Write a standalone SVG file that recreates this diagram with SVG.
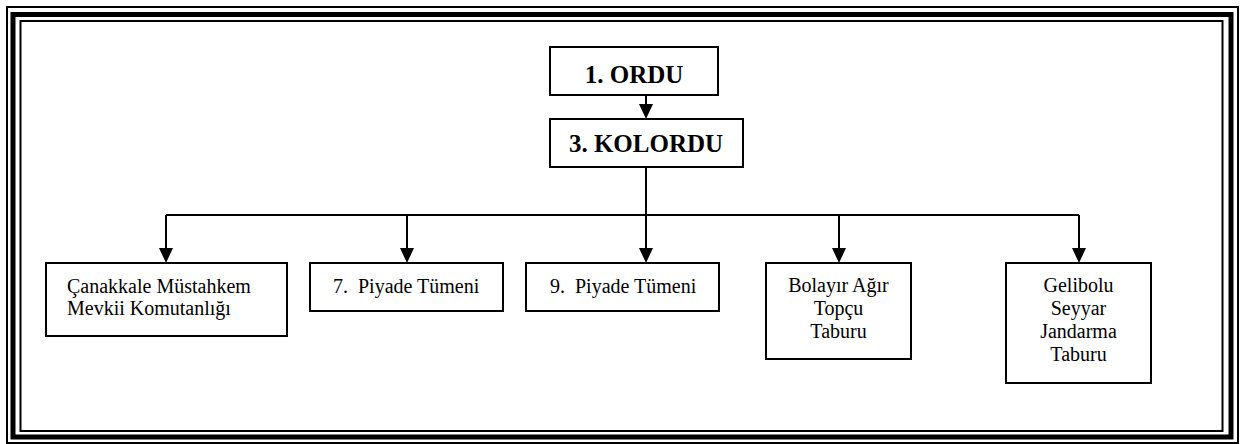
<svg xmlns="http://www.w3.org/2000/svg" width="1245" height="444" viewBox="0 0 1245 444">
<style>
.box{fill:#fff;stroke:#000;stroke-width:2}
.t{font-family:"Liberation Serif","Times New Roman",serif;font-size:20px;fill:#000}
.b{font-family:"Liberation Serif","Times New Roman",serif;font-size:25px;font-weight:bold;fill:#000}
.c{fill:none;stroke:#000;stroke-width:2}
.ah{fill:#000;stroke:none}
</style>
<defs>
<marker id="arr" markerWidth="14" markerHeight="16" refX="7" refY="15" orient="auto-start-reverse" markerUnits="userSpaceOnUse" viewBox="0 0 14 16">
<path d="M0,0 L14,0 L7,15 Z" class="ah"/>
</marker>
</defs>
<rect width="1245" height="444" fill="#fff"/>
<g id="frame" fill="none" stroke="#000">
<rect x="7" y="7" width="1231" height="436" stroke-width="2"/>
<rect x="13" y="14.5" width="1218" height="422.5" stroke-width="5"/>
<rect x="20.5" y="21" width="1202" height="410" stroke-width="2"/>
</g>
<g id="connectors">
<path class="c" d="M646,95 V105"/>
<path d="M639,104 L653,104 L646,119 Z" class="ah"/>
<path class="c" d="M646,167 V215 M166,215 H1079"/>
<path class="c" d="M166,215 V249 M407,215 V249 M646,215 V249 M839,215 V249 M1079,215 V249"/>
<path class="ah" d="M159,248 L173,248 L166,263 Z M400,248 L414,248 L407,263 Z M639,248 L653,248 L646,263 Z M832,248 L846,248 L839,263 Z M1072,248 L1086,248 L1079,263 Z"/>
</g>
<g id="n1">
<rect class="box" x="550" y="47" width="168" height="48"/>
<text class="b" x="634" y="83" text-anchor="middle">1. ORDU</text>
</g>
<g id="n2">
<rect class="box" x="550" y="119" width="193" height="48"/>
<text class="b" x="646" y="152" text-anchor="middle">3. KOLORDU</text>
</g>
<g id="n3">
<rect class="box" x="46" y="263" width="241" height="73"/>
<text class="t" x="67" y="293">Çanakkale Müstahkem</text>
<text class="t" x="67" y="315">Mevkii Komutanlığı</text>
</g>
<g id="n4">
<rect class="box" x="310" y="263" width="193" height="48"/>
<text class="t" x="333" y="293" xml:space="preserve">7.  Piyade Tümeni</text>
</g>
<g id="n5">
<rect class="box" x="526" y="263" width="193" height="48"/>
<text class="t" x="550" y="293" xml:space="preserve">9.  Piyade Tümeni</text>
</g>
<g id="n6">
<rect class="box" x="766" y="263" width="145" height="96"/>
<text class="t" x="838.5" y="292" text-anchor="middle">Bolayır Ağır</text>
<text class="t" x="838.5" y="315" text-anchor="middle">Topçu</text>
<text class="t" x="838.5" y="338" text-anchor="middle">Taburu</text>
</g>
<g id="n7">
<rect class="box" x="1006" y="263" width="145" height="120"/>
<text class="t" x="1078.5" y="292" text-anchor="middle">Gelibolu</text>
<text class="t" x="1078.5" y="315" text-anchor="middle">Seyyar</text>
<text class="t" x="1078.5" y="338" text-anchor="middle">Jandarma</text>
<text class="t" x="1078.5" y="361" text-anchor="middle">Taburu</text>
</g>
</svg>
